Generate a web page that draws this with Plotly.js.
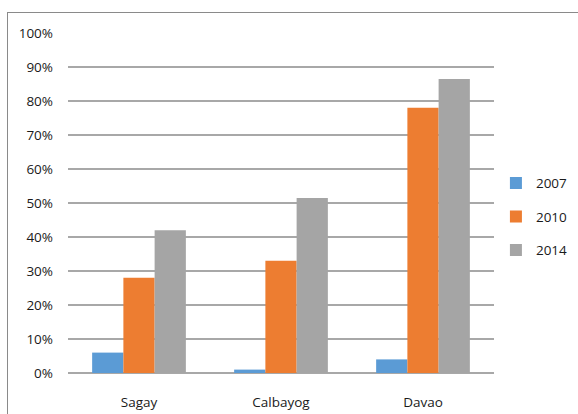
<!DOCTYPE html>
<html><head><meta charset="utf-8">
<script src="https://cdn.plot.ly/plotly-3.0.1.min.js"></script>
<style>
html,body{margin:0;padding:0;background:#fff;}
#frame{position:absolute;left:7px;top:12px;width:640px;height:500px;border:1px solid #8a8a8a;}
#chart{position:absolute;left:0;top:0;width:578px;height:414px;}
</style></head>
<body>
<div id="frame"></div>
<div id="chart"></div>
<script>
const categories = ["Sagay", "Calbayog", "Davao"];
const seriesNames = ["2007", "2010", "2014"];
const values2007 = [0.06, 0.01, 0.04];
const values2010 = [0.28, 0.33, 0.78];
const values2014 = [0.42, 0.515, 0.865];
const colors = ["#5B9BD5", "#ED7D31", "#A5A5A5"];
const yTickVals = [0, 0.1, 0.2, 0.3, 0.4, 0.5, 0.6, 0.7, 0.8, 0.9, 1.0];
const yTickText = ["0%", "10%", "20%", "30%", "40%", "50%", "60%", "70%", "80%", "90%", "100%"];

const allValues = [values2007, values2010, values2014];
const traces = allValues.map((v, i) => ({
  type: "bar", x: categories, y: v, name: seriesNames[i],
  legendgroup: "g" + i,
  marker: {color: colors[i], line: {width: 0}},
  hoverinfo: "none"
}));

const fam = "Open Sans, Noto Sans, sans-serif";
const layout = {
  width: 578, height: 414,
  margin: {l: 68, r: 84, t: 33, b: 41, autoexpand: false},
  paper_bgcolor: "rgba(0,0,0,0)", plot_bgcolor: "rgba(0,0,0,0)",
  font: {family: fam, size: 13.5, color: "#1a1a1a"},
  barmode: "group", bargap: 0.34, bargroupgap: 0,
  showlegend: true,
  legend: {xref: "container", x: 0.858, xanchor: "left", y: 0.46, yanchor: "middle",
           font: {family: fam, size: 13.5, color: "#1a1a1a"},
           traceorder: "grouped", tracegroupgap: 13, itemwidth: 30, bgcolor: "rgba(0,0,0,0)"},
  xaxis: {showgrid: false, showline: false, zeroline: false, ticks: "",
          ticklabelstandoff: 19, fixedrange: true},
  yaxis: {range: [0, 1.0], tickvals: yTickVals, ticktext: yTickText,
          showgrid: true, gridcolor: "#A8A8A8", gridwidth: 1.5,
          zeroline: true, zerolinecolor: "#A8A8A8", zerolinewidth: 1.5,
          showline: false, ticks: "", ticklabelstandoff: 14, fixedrange: true}
};
Plotly.newPlot("chart", traces, layout, {displayModeBar: false, staticPlot: true});
</script>
</body></html>
